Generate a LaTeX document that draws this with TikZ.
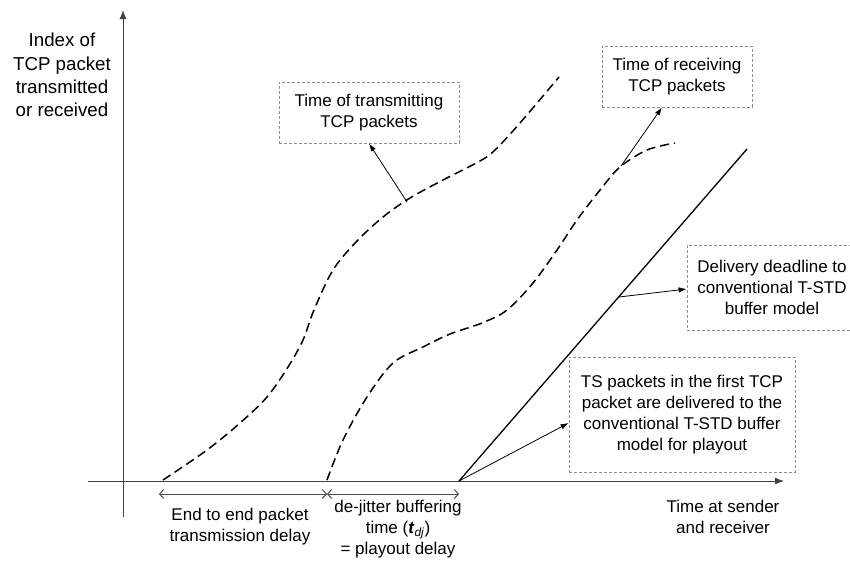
\documentclass[tikz,border=0pt]{standalone}
\usepackage{fontspec}
\setmainfont{Liberation Sans}
\usetikzlibrary{arrows.meta}
\begin{document}
\begin{tikzpicture}[x=1pt,y=-1pt,
  every node/.style={font=\fontsize{17}{21}\selectfont, align=center, inner sep=0pt},
  biglabel/.style={font=\fontsize{18.7}{23.3}\selectfont},
  axis/.style={draw=black!75, line width=1pt, -{Latex[length=9pt,width=7pt]}},
  curve/.style={line width=1.5pt, dash pattern=on 9pt off 5pt},
  deadline/.style={line width=1.3pt},
  callout/.style={draw=black!45, dashed, dash pattern=on 3pt off 2pt, line width=0.8pt},
  pointer/.style={line width=0.8pt, -{Latex[length=8pt,width=5.5pt]}},
  span/.style={draw=black!70, line width=1pt,
    {Straight Barb[length=4pt,width=9pt]}-{Straight Barb[length=4pt,width=9pt]}}]
\useasboundingbox (0,0) rectangle (850,560);

% axes
\coordinate (yb) at (123,517);
\coordinate (yt) at (123,10);
\coordinate (xl) at (88,481);
\coordinate (xr) at (784,481);
\draw[axis] (yb) -- (yt);
\draw[axis] (xl) -- (xr);

\node[biglabel] (ylab) at (62,75) {Index of\\TCP packet\\transmitted\\or received};
\node (xlab) at (723,517) {Time at sender\\and receiver};

% transmit and receive curves
\draw[curve] plot[smooth, tension=0.55] coordinates {
  (163,480) (207,450) (240,423) (267,397) (288,367) (303,340) (314,310)
  (333,270) (357,241) (383,217) (410,198) (443,180) (480,161) (495,150)
  (520,123) (559,77)};
\draw[curve] plot[smooth, tension=0.55] coordinates {
  (327,480) (343,440) (367,397) (393,363) (423,347) (450,334) (482,323)
  (507,310) (533,283) (557,250) (577,220) (600,190) (620,167) (647,150)
  (675,143)};

% delivery deadline
\coordinate (d0) at (459,481);
\coordinate (d1) at (747,149);
\draw[deadline] (d0) -- (d1);

% points picked on the curves
\coordinate (ptx) at (407,202);
\coordinate (prx) at (621,166);
\coordinate (pdl) at (619,297);

% callout boxes
\node[callout, minimum width=180pt, minimum height=61pt] (btx) at (369,112.5)
  {Time of transmitting\\TCP packets};
\node[callout, minimum width=150pt, minimum height=61pt] (brx) at (677,76.5)
  {Time of receiving\\TCP packets};
\node[callout, minimum width=170pt, minimum height=85pt] (bdl) at (772,287.5)
  {Delivery deadline to\\conventional T-STD\\buffer model};
\node[callout, minimum width=226pt, minimum height=115pt] (bts) at (682,414.5)
  {TS packets in the first TCP\\packet are delivered to the\\conventional T-STD buffer\\model for playout};

\draw[pointer] (ptx) -- (btx.south);
\draw[pointer] (prx) -- (brx.south -| 662,0);
\draw[pointer] (pdl) -- (bdl.west |- 0,289);
\draw[pointer] (d0) -- (bts.west |- 0,423);

% delay spans below the time axis
\coordinate (s0) at (159,494);
\coordinate (s1) at (327,494);
\coordinate (s2) at (459,494);
\draw[span] (s0) -- (s1);
\draw[span] (s1) -- (s2);

\node (lab1) at (240,526.5) {End to end packet\\transmission delay};
\node (lab2) at (398,529) {de-jitter buffering\\time (\textit{\textbf{t}}\textsubscript{\textit{dj}})\\= playout delay};
\end{tikzpicture}
\end{document}
